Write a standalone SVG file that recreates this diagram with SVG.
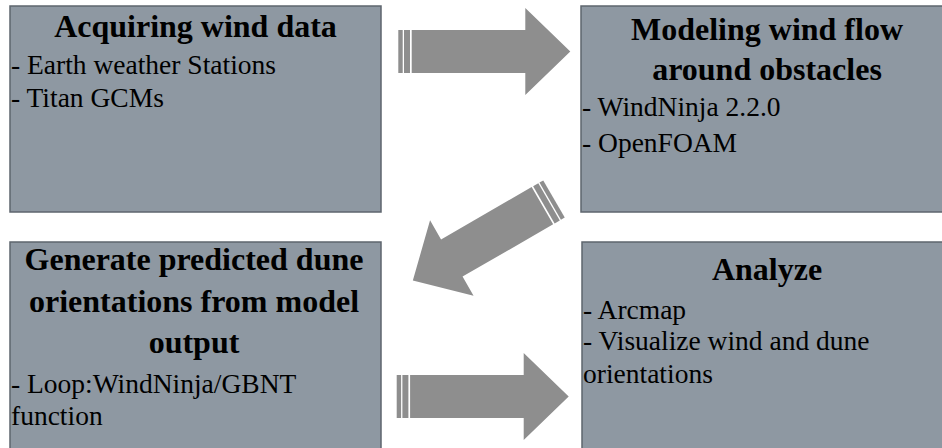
<svg xmlns="http://www.w3.org/2000/svg" width="942" height="448" viewBox="0 0 942 448">
<style>
.box{fill:#8E98A2;stroke:#5E656E;stroke-width:1.5}
.arr{fill:#8E8E8E}
text{font-family:'Liberation Serif','DejaVu Serif',serif;fill:#000}
.t{font-size:32px;font-weight:bold;text-anchor:middle}
.b{font-size:27.5px}
</style>
<defs>
<g id="stripedArrow">
<rect x="0" y="-21.5" width="4.4" height="43"/>
<rect x="5.7" y="-21.5" width="6" height="43"/>
<polygon points="13.4,-21.5 127,-21.5 127,-43.5 172,0 127,43.5 127,21.5 13.4,21.5"/>
</g>
<g id="stripedArrowShort">
<rect x="0" y="-21.5" width="4.4" height="43"/>
<rect x="5.7" y="-21.5" width="6" height="43"/>
<polygon points="13.4,-21.5 118,-21.5 118,-43.5 163,0 118,43.5 118,21.5 13.4,21.5"/>
</g>
</defs>
<rect width="942" height="448" fill="#fff"/>
<g id="connectors">
<use href="#stripedArrow" class="arr" transform="translate(398.3,51.5)"/>
<use href="#stripedArrowShort" class="arr" transform="translate(554,199) rotate(150)"/>
<use href="#stripedArrow" class="arr" transform="translate(396.7,396.5)"/>
</g>
<g id="node-acquire">
<rect class="box" x="10" y="6" width="371" height="206"/>
<text class="t" x="195.5" y="37">Acquiring wind data</text>
<text class="b" x="11" y="74">- Earth weather Stations</text>
<text class="b" x="11" y="107">- Titan GCMs</text>
</g>
<g id="node-model">
<rect class="box" x="581" y="6" width="371" height="206"/>
<text class="t" x="767" y="40">Modeling wind flow</text>
<text class="t" x="767" y="80">around obstacles</text>
<text class="b" x="582" y="116">- WindNinja 2.2.0</text>
<text class="b" x="582" y="152">- OpenFOAM</text>
</g>
<g id="node-generate">
<rect class="box" x="10" y="242" width="371" height="212"/>
<text class="t" x="194" y="270">Generate predicted dune</text>
<text class="t" x="194" y="312">orientations from model</text>
<text class="t" x="194" y="353">output</text>
<text class="b" x="11" y="393">- Loop:WindNinja/GBNT</text>
<text class="b" x="11" y="425">function</text>
</g>
<g id="node-analyze">
<rect class="box" x="582" y="242" width="371" height="212"/>
<text class="t" x="767" y="280">Analyze</text>
<text class="b" x="583" y="319">- Arcmap</text>
<text class="b" x="583" y="350">- Visualize wind and dune</text>
<text class="b" x="583" y="383">orientations</text>
</g>
</svg>
